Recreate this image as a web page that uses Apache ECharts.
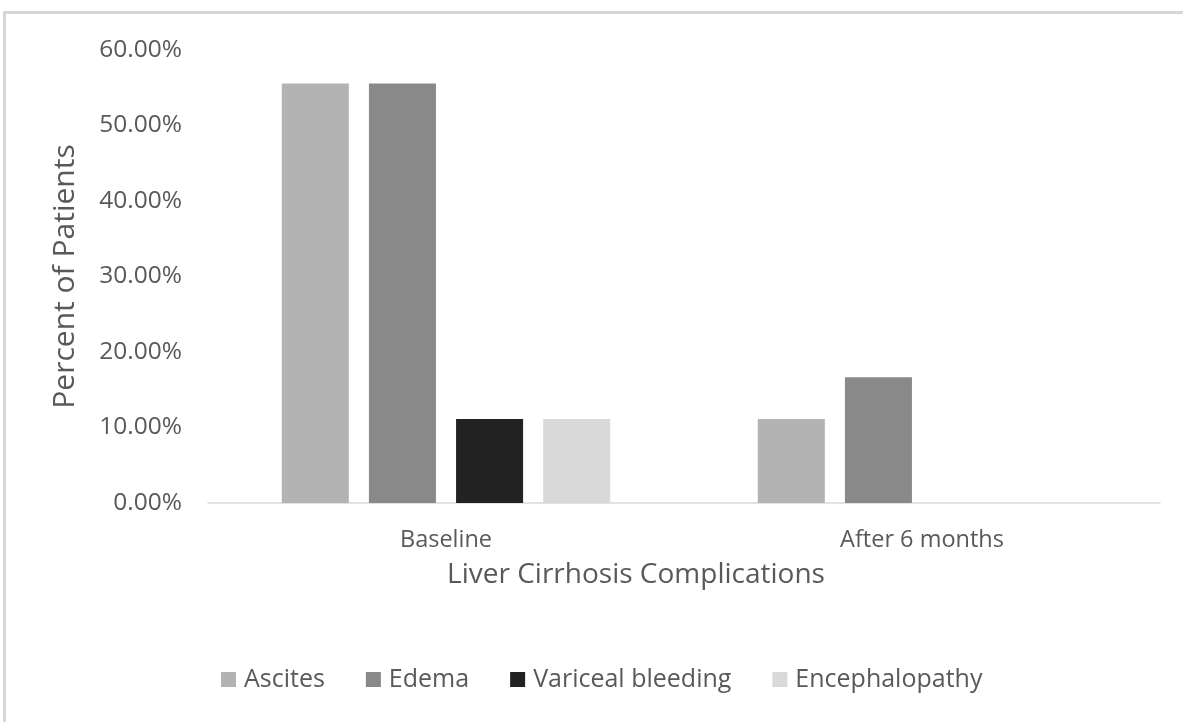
<!DOCTYPE html>
<html>
<head>
<meta charset="utf-8">
<script src="https://cdn.jsdelivr.net/npm/echarts@6/dist/echarts.min.js"></script>
<style>
  html, body { margin: 0; padding: 0; background: #fff; overflow: hidden; }
  #frame { position: absolute; left: 3px; top: 11px; width: 1300px; height: 800px; border: 3px solid #d6d6d6; box-sizing: border-box; }
  #chart { position: absolute; left: 0; top: 0; width: 1183px; height: 722px; }
</style>
</head>
<body>
<div id="frame"></div>
<div id="chart"></div>
<script>
// categories and series values (percent of patients)
const categories = ['Baseline', 'After 6 months']
const seriesNames = ['Ascites', 'Edema', 'Variceal bleeding', 'Encephalopathy']
const ascites = [55.56, 11.11]
const edema = [55.56, 16.67]
const varicealBleeding = [11.11, 0]
const encephalopathy = [11.11, 0]
const colors = ['#b3b3b3', '#898989', '#222222', '#d9d9d9']

const font = 'Open Sans'
const textColor = '#595959'

let chart = echarts.init(document.getElementById('chart'))
chart.setOption({
    animation: false,
    color: colors,
    textStyle: {fontFamily: font},
    legend: {
        top: 662,
        left: 216,
        itemWidth: 15,
        itemHeight: 15,
        itemGap: 41,
        icon: 'rect',
        textStyle: {fontSize: 25, color: textColor, fontFamily: font, padding: [0, 0, 0, 3]},
        data: seriesNames
    },
    grid: {left: 208, right: 23, top: 50, bottom: 219},
    xAxis: {
        type: 'category',
        data: categories,
        name: 'Liver Cirrhosis Complications',
        nameLocation: 'middle',
        nameGap: 58,
        nameTextStyle: {fontSize: 28, color: textColor, padding: [0, 96, 0, 0]},
        axisLine: {lineStyle: {color: '#d9d9d9', width: 1.5}},
        axisTick: {show: false},
        axisLabel: {fontSize: 23.5, color: textColor, margin: 25}
    },
    yAxis: {
        type: 'value',
        min: 0,
        max: 60,
        interval: 10,
        name: 'Percent of Patients',
        nameLocation: 'middle',
        nameGap: 128,
        nameTextStyle: {fontSize: 30, color: textColor},
        splitLine: {show: false},
        axisLine: {show: false},
        axisTick: {show: false},
        axisLabel: {fontSize: 24.5, color: textColor, margin: 26, formatter: v => v.toFixed(2) + '%'}
    },
    series: [
        {name: seriesNames[0], type: 'bar', data: ascites, barGap: '30%', barCategoryGap: '31%'},
        {name: seriesNames[1], type: 'bar', data: edema},
        {name: seriesNames[2], type: 'bar', data: varicealBleeding},
        {name: seriesNames[3], type: 'bar', data: encephalopathy}
    ]
})
</script>
</body>
</html>
